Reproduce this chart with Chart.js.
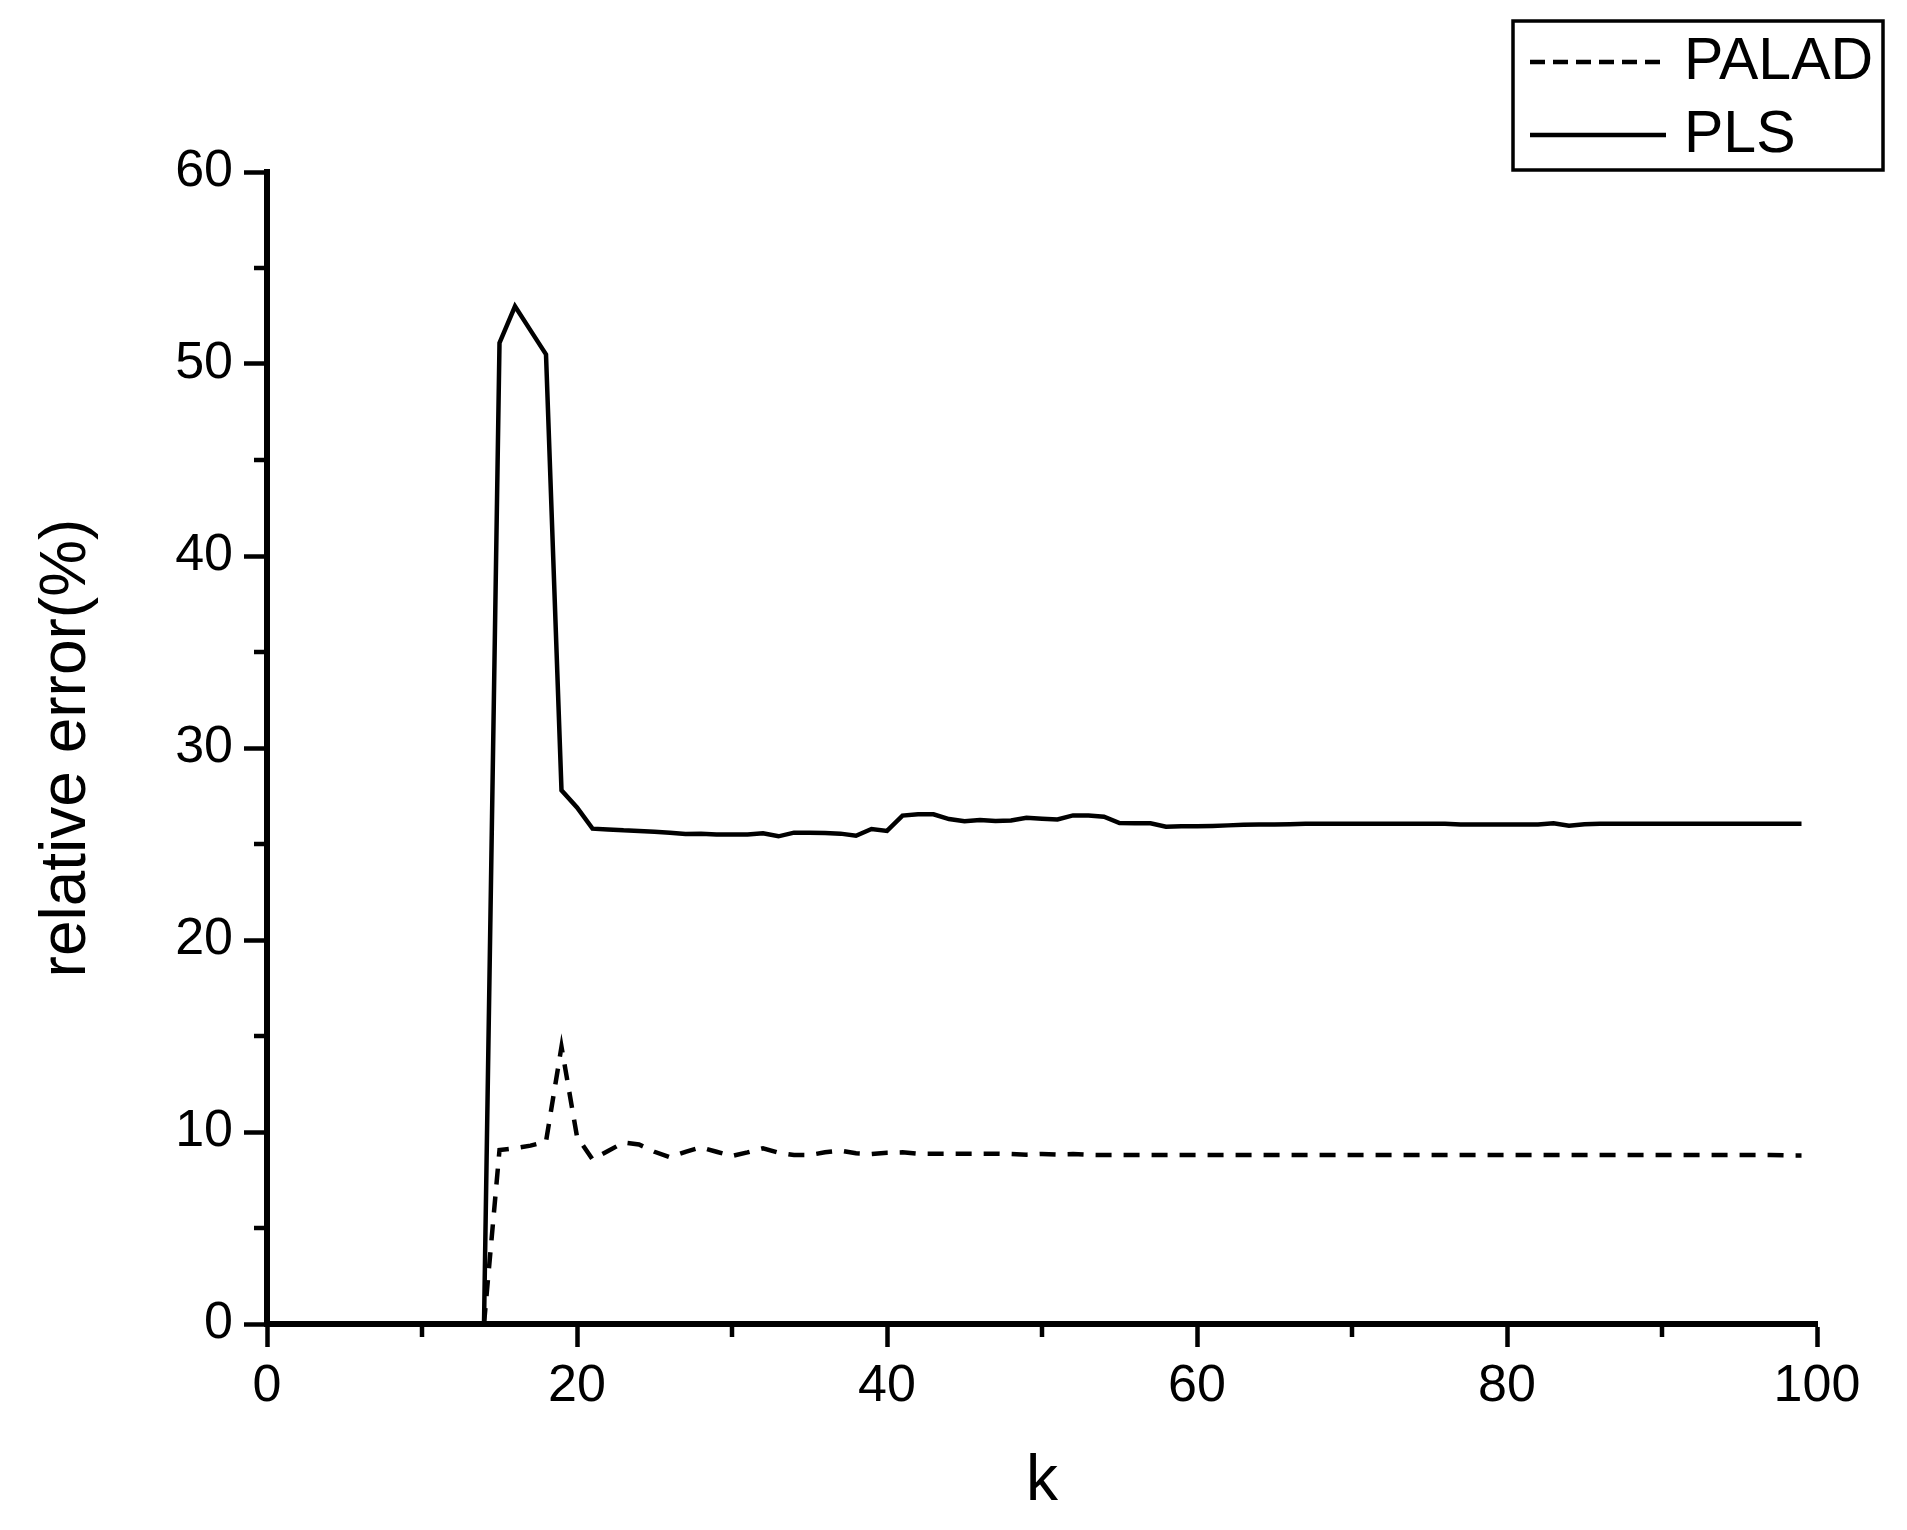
<!DOCTYPE html>
<html>
<head>
<meta charset="utf-8">
<script src="https://cdn.jsdelivr.net/npm/chart.js@4/dist/chart.umd.min.js"></script>
<style>
  html, body { margin: 0; padding: 0; background: #fff; }
  #wrap { width: 1907px; height: 1530px; }
</style>
</head>
<body>
<div id="wrap"><canvas id="c" width="1907" height="1530"></canvas></div>
<script>
// ---- data ----
const kValues = [14,15,16,17,18,19,20,21,22,23,24,25,26,27,28,29,30,31,32,33,34,35,36,37,38,39,40,
  41,42,43,44,45,46,47,48,49,50,51,52,53,54,55,56,57,58,59,60,61,62,63,64,65,66,67,68,69,70,
  71,72,73,74,75,76,77,78,79,80,81,82,83,84,85,86,87,88,89,90,91,92,93,94,95,96,97,98,99];

const paladValues = [0,9.06,9.15,9.29,9.5,14.44,9.76,8.58,9.01,9.45,9.35,8.97,8.68,8.97,9.2,8.97,8.75,
  8.94,9.15,8.92,8.8,8.8,8.94,9.03,8.89,8.85,8.92,
  8.94,8.87,8.87,8.87,8.87,8.87,8.87,8.85,8.82,8.86,8.83,8.85,8.81,8.8,8.8,8.8,8.8,8.8,8.8,8.8,
  8.8,8.8,8.8,8.8,8.8,8.8,8.8,8.8,8.8,8.8,8.8,8.8,8.8,8.8,8.8,8.8,8.8,8.8,8.8,8.8,8.8,8.8,8.8,
  8.8,8.8,8.8,8.8,8.8,8.8,8.8,8.8,8.8,8.8,8.8,8.8,8.8,8.8,8.78,8.78];

const plsValues = [0,51.1,53.0,51.75,50.5,27.8,26.9,25.8,25.76,25.71,25.68,25.64,25.59,25.52,25.54,25.5,25.5,
  25.5,25.56,25.4,25.59,25.59,25.57,25.54,25.43,25.78,25.68,
  26.48,26.55,26.55,26.3,26.18,26.25,26.2,26.22,26.37,26.32,26.28,26.49,26.48,26.42,26.09,26.08,26.08,25.9,25.92,25.92,
  25.94,25.97,26.0,26.02,26.02,26.03,26.05,26.06,26.06,26.06,26.06,26.06,26.06,26.06,26.06,26.06,
  26.02,26.02,26.02,26.02,26.02,26.02,26.08,25.95,26.03,26.06,26.06,26.06,26.06,26.06,26.06,26.06,26.06,26.06,26.06,26.06,26.06,26.06,26.06,26.06];

const seriesLabels = ['PALAD', 'PLS'];
const xMajorStep = 20;
const yMajorStep = 10;
const xMinorTicks = [10, 30, 50, 70, 90];
const yMinorTicks = [5, 15, 25, 35, 45, 55];
const xTitle = 'k';
const yTitle = 'relative error(%)';

// ---- chart ----
const FONT = '"Liberation Sans", Arial, Helvetica, sans-serif';

const minorTickPlugin = {
  id: 'minorTicks',
  afterDraw(chart) {
    const { ctx, chartArea, scales } = chart;
    ctx.save();
    ctx.strokeStyle = '#000';
    ctx.lineWidth = 4.5;
    xMinorTicks.forEach(v => {
      const px = scales.x.getPixelForValue(v);
      ctx.beginPath();
      ctx.moveTo(px, chartArea.bottom);
      ctx.lineTo(px, chartArea.bottom + 13);
      ctx.stroke();
    });
    yMinorTicks.forEach(v => {
      const py = scales.y.getPixelForValue(v);
      ctx.beginPath();
      ctx.moveTo(chartArea.left, py);
      ctx.lineTo(chartArea.left - 13, py);
      ctx.stroke();
    });
    ctx.restore();
  }
};

const boxLegendPlugin = {
  id: 'boxLegend',
  afterDraw(chart) {
    const { ctx } = chart;
    const box = { left: 1513, top: 21, right: 1883, bottom: 170 };
    ctx.save();
    ctx.strokeStyle = '#000';
    ctx.lineWidth = 3.5;
    ctx.strokeRect(box.left, box.top, box.right - box.left, box.bottom - box.top);
    const rows = [62, 135];
    ctx.font = '59px ' + FONT;
    ctx.textBaseline = 'middle';
    ctx.textAlign = 'left';
    ctx.fillStyle = '#000';
    chart.data.datasets.forEach((ds, i) => {
      const y = rows[i];
      ctx.beginPath();
      ctx.lineWidth = ds.borderWidth;
      ctx.setLineDash(ds.borderDash && ds.borderDash.length ? [15, 8] : []);
      ctx.moveTo(1530, y);
      ctx.lineTo(1666, y);
      ctx.stroke();
      ctx.setLineDash([]);
      ctx.fillText(ds.label, 1684, y + 1);
    });
    ctx.restore();
  }
};

const toPoints = vals => kValues.map((k, i) => ({ x: k, y: vals[i] }));

new Chart(document.getElementById('c'), {
  type: 'line',
  data: {
    datasets: [
      {
        label: seriesLabels[0],
        data: toPoints(paladValues),
        borderColor: '#000',
        borderWidth: 4.5,
        borderDash: [16, 12],
        pointRadius: 0,
        tension: 0,
        fill: false
      },
      {
        label: seriesLabels[1],
        data: toPoints(plsValues),
        borderColor: '#000',
        borderWidth: 4.5,
        pointRadius: 0,
        tension: 0,
        fill: false
      }
    ]
  },
  options: {
    responsive: false,
    devicePixelRatio: 1,
    animation: false,
    layout: { padding: { top: 172, right: 90, left: 0, bottom: 0 } },
    plugins: {
      legend: { display: false },
      tooltip: { enabled: false }
    },
    scales: {
      x: {
        type: 'linear',
        min: 0,
        max: 100,
        afterFit(scale) { scale.height = 206; },
        ticks: {
          stepSize: xMajorStep,
          color: '#000',
          padding: 8,
          maxRotation: 0,
          font: { family: FONT, size: 52 }
        },
        grid: {
          display: true,
          drawOnChartArea: false,
          drawTicks: true,
          tickLength: 23,
          tickWidth: 4.5,
          tickColor: '#000'
        },
        border: { display: true, color: '#000', width: 6 },
        title: {
          display: true,
          text: xTitle,
          color: '#000',
          font: { family: FONT, size: 64 },
          padding: { top: 0, bottom: 9 }
        }
      },
      y: {
        type: 'linear',
        min: 0,
        max: 60,
        afterFit(scale) { scale.width = 267; },
        ticks: {
          stepSize: yMajorStep,
          color: '#000',
          padding: 11,
          font: { family: FONT, size: 52 }
        },
        grid: {
          display: true,
          drawOnChartArea: false,
          drawTicks: true,
          tickLength: 23,
          tickWidth: 4.5,
          tickColor: '#000'
        },
        border: { display: true, color: '#000', width: 6 },
        title: {
          display: true,
          text: yTitle,
          color: '#000',
          font: { family: FONT, size: 64 },
          padding: { top: 29, bottom: 0 }
        }
      }
    }
  },
  plugins: [minorTickPlugin, boxLegendPlugin]
});
</script>
</body>
</html>
